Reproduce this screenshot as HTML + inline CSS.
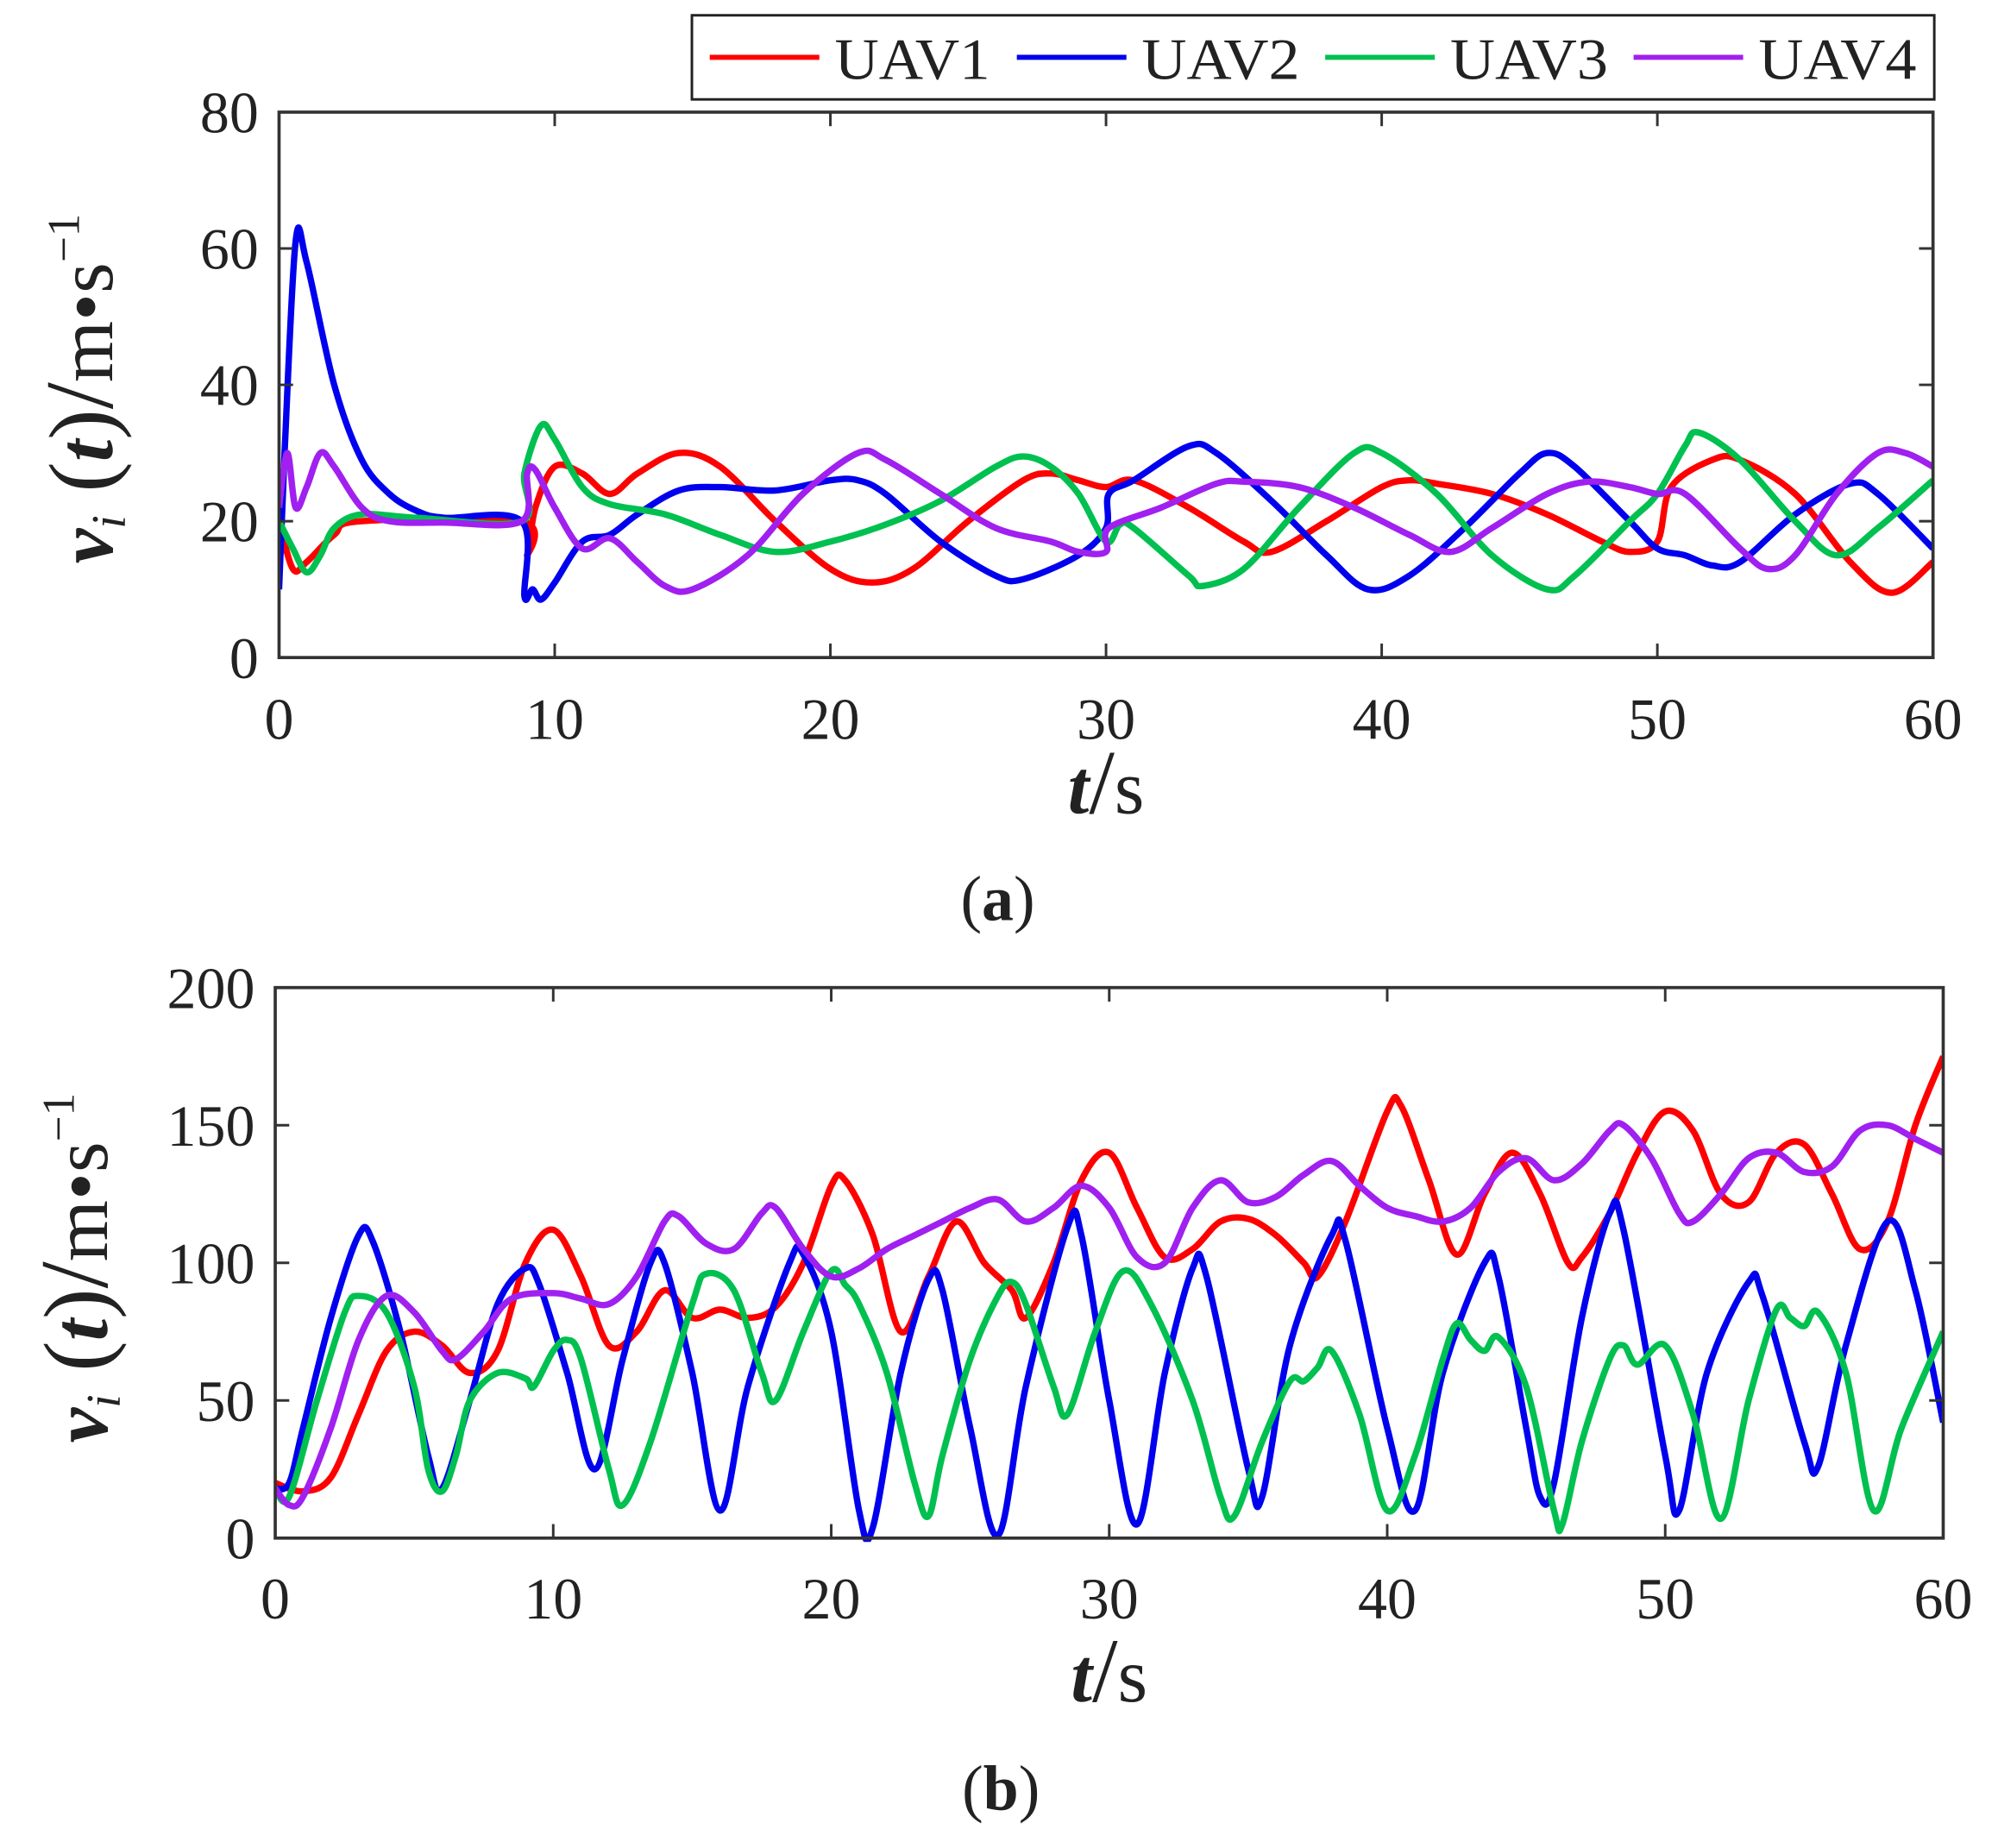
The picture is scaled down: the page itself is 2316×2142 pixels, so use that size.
<!DOCTYPE html>
<html><head><meta charset="utf-8"><style>
html,body{margin:0;padding:0;background:#fff;}
svg{display:block;}
text{font-family:"Liberation Serif",serif;fill:#222;}
</style></head><body>
<svg id="fig" xmlns="http://www.w3.org/2000/svg" width="2316" height="2142" viewBox="0 0 1568 1450.2" preserveAspectRatio="none">
<rect width="1568" height="1450.2" fill="#fff"/>
<g>
<rect x="543" y="12" width="975" height="66" fill="#fff" stroke="#222" stroke-width="2"/>
<g><line x1="557" y1="45" x2="643" y2="45" stroke="#ff0000" stroke-width="4"/><text x="655" y="62" font-size="46" textLength="122" lengthAdjust="spacingAndGlyphs">UAV1</text></g>
<g><line x1="798" y1="45" x2="884" y2="45" stroke="#0000ee" stroke-width="4"/><text x="896" y="62" font-size="46" textLength="124" lengthAdjust="spacingAndGlyphs">UAV2</text></g>
<g><line x1="1040" y1="45" x2="1126" y2="45" stroke="#00c050" stroke-width="4"/><text x="1138" y="62" font-size="46" textLength="124" lengthAdjust="spacingAndGlyphs">UAV3</text></g>
<g><line x1="1282" y1="45" x2="1368" y2="45" stroke="#a020f0" stroke-width="4"/><text x="1380" y="62" font-size="46" textLength="124" lengthAdjust="spacingAndGlyphs">UAV4</text></g>
</g>
<g id="pa"></g>
<g id="pb"></g>
</svg>
<script>
// ---- Panel (a) data ----
const aT1=[0,0.5,1,2,3,8.8,9,9.3,10,11,12,13,14.5,16,18,20,21.5,23,25,27,28,29,30,31,33,35,36,38,40,41,42,44,46,48,49,50,50.5,52,53,55,57,58.5,60];
const aV1=[20,13,14,18,20,20,15,22,28,27,24,27,30,28,20,13,11,13,20,26,27,26,25,26,22,17,15.5,20,25,26,25.5,24,21,17,15.5,17,25,29,29,24,14,9.5,14];
const aT2=[0,0.2,0.6,1,2,3,4,5,6,8.8,8.9,9.2,9.5,10,11,12,13,14.5,16,18,20,21,22,24,26,27,29,30,30.1,31,33,34,36,38,39.5,41,43,45,46,47,49,50,51,52,53,55,57,58,60];
const aV2=[10,30,61,58,40,29,24,21.5,20.5,20,9,10,8.5,11,17,18,21,24.5,25,24.5,26,26,24,17,12,11.5,15,19,24,26,31,30,23,15,10,12,19,27,30,28,20,16,15,13.5,14,21,25.5,24,16];
const aT3=[0,0.5,1,1.5,2,3,5,8.8,8.9,9.5,10,11,12,14,16,18,20,22,24,26,27,28,29,30,30.5,31,33,33.5,35,37,39,40,42,44,46,47,49,50,51,51.5,53,55,56.5,58,60];
const aV3=[20,16,12.5,15,19,21,20.5,20,27,34,32,25,22.5,21,18,15.5,17,19.5,23,28,29.5,28,24,17,19.5,19,12,10.5,13,22,30,30,24,15,10,12,20,24,31,33,29,20,15,19,26];
const aT4=[0,0.3,0.6,1,1.5,2,3,4,6,8.8,9,9.3,10,11,12,13,14,15,17,19,21,22,24,26,28,29,30,30.1,32,34,35,37,39,41,42.5,44,46,47.5,49,50,51,53,54,55,56.5,58,59,60];
const aV4=[22,30,22,25,30,28,22,20,19.8,20,27,27.5,22,16,17.5,14,10.5,10,15,24,30,29,24,19,17,15.5,15.5,19,22,25.5,25.8,25,22,18,15.5,19,24,25.8,25,24,24,16,13,15,24,30,30,28];
const aXTicks=[0,10,20,30,40,50,60];
const aYTicks=[0,20,40,60,80];
// ---- Panel (b) data ----
const bT1=[0,1,2,3,4,5,6,7,8,9,10,11,12,13,14,15,16,17,18,19,20,20.5,21.5,22.5,23.5,24.5,25.5,26.5,27,28,29,30,31,32,33,34,35,36,37,37.5,38.5,40,40.5,41.5,42.5,43.5,44.5,45.5,46.5,47,48,49,50,51,52,53,54,55,56,57,58,59,60];
const bV1=[20,17,22,45,68,75,70,60,68,100,112,95,70,75,90,80,83,80,84,100,128,130,110,75,95,115,100,90,80,100,130,140,120,102,105,115,116,110,100,95,115,155,157,130,103,125,140,125,100,102,118,140,155,148,125,122,140,143,125,105,115,150,175];
const bT2=[0,0.5,1,2,3,3.5,4.5,5.5,6,7,8,9,9.5,10.5,11.5,12.5,13.5,14,15,16,17,18.5,19,20,21,21.5,22.5,23.5,24,25,26,27,28.5,29,30,31,32,33,33.5,35,35.5,36.5,38,38.5,40,41,42,43.5,44,45,45.5,46,47,48,48.5,50,50.5,51.5,53,53.5,55,55.5,56.5,58,59,60];
const bV2=[18,20,40,80,110,108,75,30,18,50,85,98,92,60,25,65,100,100,60,10,55,100,103,75,10,4,60,94,90,40,1,55,113,110,50,5,60,98,95,25,15,70,110,108,40,10,60,100,95,40,15,20,80,118,112,30,10,60,93,88,35,26,70,115,90,42];
const bT3=[0,0.5,1.5,2.5,3,4,5,5.5,6,6.5,7,8,9,9.3,10,10.5,11,12,12.5,13.5,15,15.5,16.5,17.5,18,19,20,20.5,21,22,23,23.5,24,25,26,26.5,27,28,28.5,29.5,30.5,31.5,33,34,34.5,35.5,36.5,37,37.5,38,39,40,41,42,42.5,43,43.5,44,45,46,46.3,47,48,48.5,49,50,51,52,53,54,54.5,55,55.5,56.5,57.5,58.5,60];
const bV3=[18,15,50,82,88,82,55,25,17,30,50,60,58,55,68,72,65,25,12,35,85,96,90,60,50,75,97,92,85,60,20,8,30,65,88,93,85,55,45,75,97,85,50,15,8,35,57,57,62,68,45,10,30,65,78,72,68,73,55,10,5,35,65,70,63,70,45,7,50,83,80,77,82,60,10,40,75];
const bT4=[0,0.5,1,2,3,4,5,6,6.5,7.5,8.5,10,11,12,13,14,14.5,15.5,16.5,17.5,18,19,20,21,22,23,24,25,26,27,28,29,30,31,32,33,34,35,36,37,38,39,40,41,42,43,44,45,46,47,48,48.5,49.5,50.5,51,52,53,54,55,56,57,58,59,60];
const bV4=[18,12,15,40,72,88,82,68,65,75,87,89,87,85,95,115,117,107,105,118,120,105,95,98,105,110,115,120,123,115,120,128,120,102,100,120,130,122,124,132,137,128,120,117,115,120,133,138,130,136,148,150,138,118,115,125,138,140,133,135,148,150,145,140];
const bXTicks=[0,10,20,30,40,50,60];
const bYTicks=[0,50,100,150,200];

const NS="http://www.w3.org/2000/svg";
const COLORS=["#ff0000","#0000ee","#00c050","#a020f0"];
function mk(tag,attrs,parent){const e=document.createElementNS(NS,tag);for(const k in attrs)e.setAttribute(k,attrs[k]);parent.appendChild(e);return e;}
function spline(pts){
  let d="M"+pts[0][0].toFixed(2)+","+pts[0][1].toFixed(2);
  for(let i=0;i<pts.length-1;i++){
    const p0=pts[Math.max(0,i-1)],p1=pts[i],p2=pts[i+1],p3=pts[Math.min(pts.length-1,i+2)];
    const c1=[p1[0]+(p2[0]-p0[0])/6,p1[1]+(p2[1]-p0[1])/6];
    const c2=[p2[0]-(p3[0]-p1[0])/6,p2[1]-(p3[1]-p1[1])/6];
    d+="C"+c1[0].toFixed(2)+","+c1[1].toFixed(2)+" "+c2[0].toFixed(2)+","+c2[1].toFixed(2)+" "+p2[0].toFixed(2)+","+p2[1].toFixed(2);
  }
  return d;
}
function panel(g,cfg){
  const {L,R,T,B,ymax,xt,yt,series,xlabY,tlabY,capY,cap,ylabX,ylabCY}=cfg;
  const sx=t=>L+(R-L)*t/60, sy=v=>B-(B-T)*v/ymax;
  const clipId=g.id+"clip";
  const defs=mk("defs",{},g);const cp=mk("clipPath",{id:clipId},defs);mk("rect",{x:L,y:T-3,width:R-L,height:B-T+6},cp);
  const lines=mk("g",{"clip-path":"url(#"+clipId+")"},g);
  
  
  series.forEach((s,i)=>{
    const pts=s[0].map((t,j)=>[sx(t),sy(s[1][j])]);
    const p=mk("path",{d:spline(pts),fill:"none",stroke:COLORS[i],"stroke-width":5,"stroke-linejoin":"round"},lines);
    
    
  });
  const box=mk("rect",{x:L,y:T,width:R-L,height:B-T,fill:"none",stroke:"#333","stroke-width":2.5},g);
  
  
  xt.forEach(t=>{
    const x=sx(t);
    mk("line",{x1:x,y1:B,x2:x,y2:B-11,stroke:"#333","stroke-width":2},g);
    mk("line",{x1:x,y1:T,x2:x,y2:T+11,stroke:"#333","stroke-width":2},g);
    const tx=mk("text",{x:x,y:xlabY,"font-size":46,"text-anchor":"middle"},g);tx.textContent=t;
    
    
  });
  yt.forEach(v=>{
    const y=sy(v);
    mk("line",{x1:L,y1:y,x2:L+11,y2:y,stroke:"#333","stroke-width":2},g);
    mk("line",{x1:R,y1:y,x2:R-11,y2:y,stroke:"#333","stroke-width":2},g);
    const ty=mk("text",{x:L-16,y:y+16,"font-size":46,"text-anchor":"end"},g);ty.textContent=v;
    
    
  });
  const xl=mk("text",{x:(L+R)/2,y:tlabY,"font-size":60,"text-anchor":"middle"},g);
  xl.innerHTML='<tspan font-weight="bold" font-style="italic">t</tspan><tspan font-size="72">/</tspan>s';
  
  
  const yl=mk("text",{x:0,y:0,"font-size":62,"text-anchor":"middle",transform:"translate("+ylabX+","+ylabCY+") rotate(-90)"},g);
  yl.innerHTML='<tspan font-weight="bold" font-style="italic">v</tspan><tspan font-size="38" font-style="italic" dy="10">i</tspan><tspan dy="-10" font-size="72"> (</tspan><tspan font-weight="bold" font-style="italic">t</tspan><tspan font-size="72">)</tspan><tspan font-size="76">/</tspan><tspan>m•s</tspan><tspan font-size="36" dy="-26">−1</tspan>';
  
  
  const c=mk("text",{x:(L+R)/2-85,y:capY,"font-size":50,"text-anchor":"middle"},g);
  c.innerHTML='(<tspan font-weight="bold">'+cap+'</tspan>)';
  
  
}
panel(document.getElementById("pa"),{L:219,R:1517,T:88,B:516,ymax:80,xt:aXTicks,yt:aYTicks,
  series:[[aT1,aV1],[aT2,aV2],[aT3,aV3],[aT4,aV4]],xlabY:580,tlabY:638,capY:722,cap:"a",ylabX:88,ylabCY:305});
panel(document.getElementById("pb"),{L:216,R:1525,T:775,B:1207,ymax:200,xt:bXTicks,yt:bYTicks,
  series:[[bT1,bV1],[bT2,bV2],[bT3,bV3],[bT4,bV4]],xlabY:1270,tlabY:1335,capY:1420,cap:"b",ylabX:84,ylabCY:995});
</script>
</body></html>
